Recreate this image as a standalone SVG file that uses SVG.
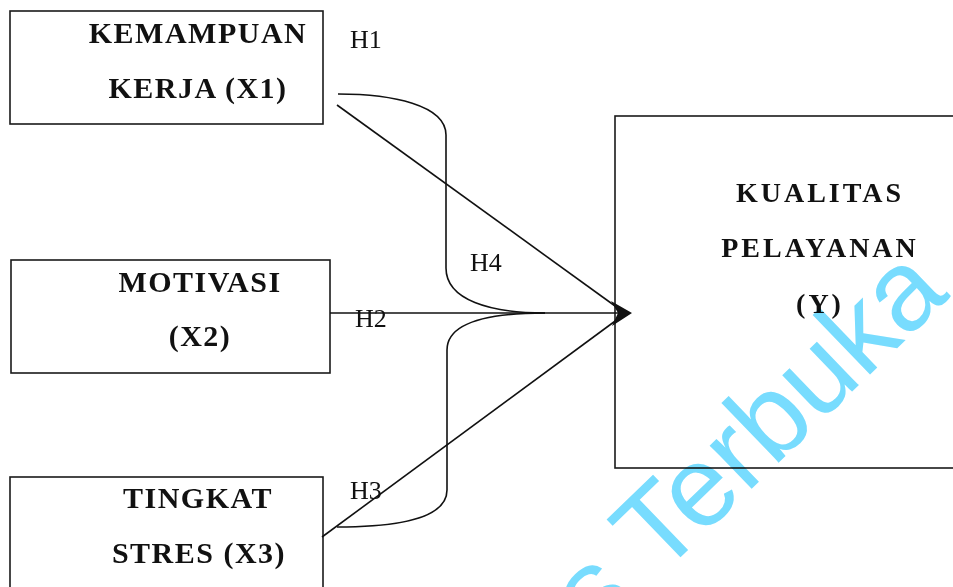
<svg xmlns="http://www.w3.org/2000/svg" width="953" height="587" viewBox="0 0 953 587">
<style>
.box{fill:none;stroke:#1a1a1a;stroke-width:1.6}
.lbl{font-family:"Liberation Serif","Times New Roman",serif;font-weight:bold;font-size:30px;letter-spacing:1.5px;fill:#111;text-anchor:middle}
.lblY{font-family:"Liberation Serif","Times New Roman",serif;font-weight:bold;font-size:28px;letter-spacing:3px;fill:#111;text-anchor:middle}
.h{font-family:"Liberation Serif","Times New Roman",serif;font-size:26px;fill:#111}
.con{fill:none;stroke:#111;stroke-width:1.6}
.wm{font-family:"Liberation Sans",Arial,sans-serif;font-size:114px;fill:#78dcfe;mix-blend-mode:multiply}
</style>
<rect width="953" height="587" fill="#ffffff"/>
<g id="x1">
<rect class="box" x="10" y="11" width="313" height="113"/>
<text class="lbl" x="198" y="43">KEMAMPUAN</text>
<text class="lbl" x="198" y="98">KERJA (X1)</text>
</g>
<g id="x2">
<rect class="box" x="11" y="260" width="319" height="113"/>
<text class="lbl" x="200" y="292">MOTIVASI</text>
<text class="lbl" x="200" y="346">(X2)</text>
</g>
<g id="x3">
<rect class="box" x="10" y="477" width="313" height="130"/>
<text class="lbl" x="198" y="508">TINGKAT</text>
<text class="lbl" x="199" y="563">STRES (X3)</text>
</g>
<g id="y">
<rect class="box" x="615" y="116" width="360" height="352"/>
<text class="lblY" x="820" y="202">KUALITAS</text>
<text class="lblY" x="820" y="257">PELAYANAN</text>
<text class="lblY" x="820" y="313">(Y)</text>
</g>
<g id="connectors">
<path class="con" d="M337,105 L622,311"/>
<path class="con" d="M330,313 L620,313"/>
<path class="con" d="M322,537 L622,316"/>
<path class="con" d="M338,94 C392,94 446,105 446,135 L446,268 C446,300 490,313 545,313"/>
<path class="con" d="M545,313 C490,313 447,322 447,350 L447,490 C447,518 400,527 337,527"/>
<polygon points="611,301 632,313 612,326 618,313" fill="#111"/>
<text class="h" x="350" y="48">H1</text>
<text class="h" x="355" y="327">H2</text>
<text class="h" x="350" y="499">H3</text>
<text class="h" x="470" y="271">H4</text>
</g>
<text class="wm" x="597" y="638" transform="rotate(-44 597 638)">s Terbuka</text>
</svg>
